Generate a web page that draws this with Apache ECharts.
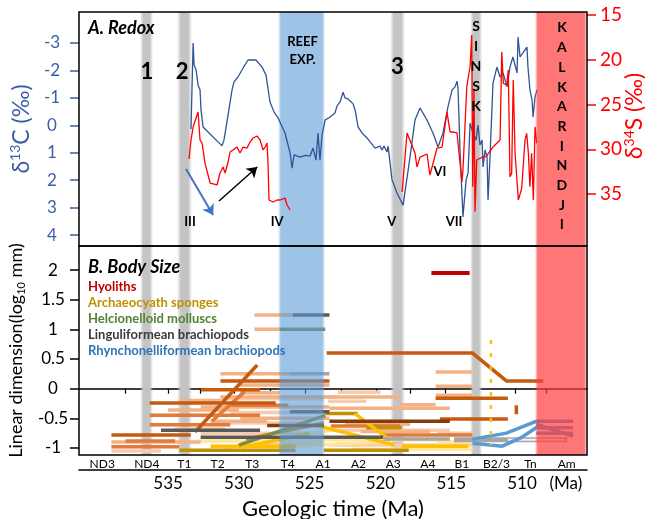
<!DOCTYPE html>
<html><head><meta charset="utf-8">
<script src="https://cdn.jsdelivr.net/npm/echarts@6/dist/echarts.min.js"></script>
<style>html,body{margin:0;padding:0;background:#fff}#c{width:645px;height:519px}</style>
</head><body><div id="c"></div><script>
// ---------- DATA ----------
const stageNames = ['ND3','ND4','T1','T2','T3','T4','A1','A2','A3','A4','B1','B2/3','Tn','Am'];
const stageBounds = [541.3, 538.0, 535.0, 532.7, 530.3, 527.8, 525.3, 522.8, 520.3, 517.9, 515.4, 513.1, 510.5, 508.3, 505.4];
const ageTicks = [535, 530, 525, 520, 515, 510];
const maUnitAt = 506.9;
const d13CTicks = [-3, -2, -1, 0, 1, 2, 3, 4];
const d34STicks = [15, 20, 25, 30, 35];
const sizeTicks = [-1, -0.5, 0, 0.5, 1, 1.5, 2];

// events (Ma)
const grayBands = [[536.98, 536.06], [534.36, 533.31], [519.32, 518.26], [513.67, 512.82]];
const reefBand = [[527.23, 523.91]];
const kalkarindjiBand = [[509.08, 505.41]];

// delta13C curve [Ma, permil]
const carbonCurve = [
 [533.38,0.14],[533.23,-3.0],[533.16,-2.2],[533.02,-2.02],[532.88,-1.47],[532.81,-1.40],[532.74,-1.29],
 [532.67,-0.56],[532.53,0.06],[532.39,0.10],[531.19,0.75],[531.05,0.54],[530.76,-0.38],[530.48,-1.29],
 [530.34,-1.58],[530.06,-1.76],[529.70,-2.09],[529.35,-2.38],[528.79,-2.38],[528.36,-2.12],[528.08,-1.83],
 [527.80,-0.85],[527.51,-0.48],[527.23,-0.27],[526.74,0.28],[526.38,1.01],[526.24,1.56],[526.10,1.08],
 [525.68,1.16],[525.30,1.10],[524.97,1.12],[524.76,0.83],[524.55,1.27],[524.41,0.28],[524.27,1.27],
 [524.12,0.35],[523.91,-0.19],[523.56,-0.30],[523.21,-0.45],[523.07,-0.70],[522.85,-0.85],[522.64,-1.21],
 [522.50,-1.0],[522.29,-0.96],[521.93,-0.78],[521.79,-0.56],[521.58,0.06],[521.30,0.28],[520.95,0.46],
 [520.38,0.83],[520.03,0.76],[519.89,0.90],[519.75,0.76],[519.53,0.97],[519.46,0.76],[519.18,1.99],
 [518.83,2.47],[518.40,2.91],[517.91,1.16],[517.56,-0.19],[517.20,-0.63],[516.71,-0.19],[516.29,0.28],
 [515.93,0.79],[515.58,0.28],[515.23,-0.67],[514.94,-1.29],[514.73,-1.40],[514.59,-1.61],[514.52,-1.36],
 [514.38,0.90],[514.17,3.34],[513.95,1.99],[513.81,1.74],[513.67,-0.08],[513.46,0.28],[513.25,0.54],
 [513.11,-0.01],[512.97,0.72],[512.82,0.54],[512.75,1.52],[512.61,0.9],[512.47,1.16],[512.40,2.72],
 [512.26,1.16],[512.05,-1.54],[511.77,-2.12],[511.55,-1.76],[511.34,-1.91],[511.06,-1.40],[510.85,-2.12],
 [510.64,-2.49],[510.35,-1.91],[510.28,-3.22],[510.14,-2.49],[509.93,-2.64],[509.65,-2.85],[509.58,-2.12],
 [509.44,-1.29],[509.29,-0.92],[509.22,-0.30],[509.08,-1.03],[508.94,-1.29]
];
// delta34S curves [Ma, permil]
const sulfurCurveEarly = [
 [533.52,31.09],[533.38,28.97],[533.23,27.51],[532.88,25.84],[532.74,28.97],[532.60,29.30],[532.39,31.54],
 [532.03,33.77],[531.54,33.99],[531.33,32.65],[531.12,31.98],[530.97,32.65],[530.76,31.42],[530.62,30.31],
 [530.41,30.08],[530.13,29.75],[529.92,30.42],[529.70,29.75],[529.42,29.86],[529.21,29.19],[529.00,28.74],
 [528.71,28.52],[528.50,28.97],[528.29,30.08],[528.15,29.75],[528.01,29.30],[527.94,31.54],[527.87,35.67],
 [527.58,35.89],[527.30,35.67],[527.09,35.67],[526.74,35.45],[526.60,36.23],[526.38,36.79]
];
const sulfurCurveLate = [
 [518.47,34.78],[518.12,28.18],[517.84,29.30],[517.56,30.42],[517.42,31.98],[517.20,30.87],[516.71,30.53],
 [516.50,32.88],[516.00,29.86],[515.65,29.75],[515.30,25.84],[515.08,28.07],[514.87,28.07],[514.59,28.18],
 [514.24,33.66],[514.17,32.32],[513.90,23.01],[513.67,20.78],[513.55,17.23],[513.48,34.18],[513.39,23.38],
 [513.32,36.98],[513.20,31.20],[512.73,30.83],[512.54,30.83],[512.03,29.71],[511.55,28.97],[511.43,19.10],
 [511.32,22.63],[511.08,22.82],[510.97,21.15],[510.85,33.07],[510.73,32.69],[510.62,22.26],[510.49,30.45],
 [510.26,35.67],[510.02,34.36],[509.79,28.97],[509.67,28.22],[509.55,30.45],[509.44,34.18],[509.32,30.45],
 [509.20,35.67],[509.08,27.48],[508.96,29.34]
];
// annotations [text, Ma, delta13C position]
const eventNumbers = [['1',536.5,-1.94],['2',534.0,-1.94],['3',518.8,-2.12]];
const isotopeEvents = [['III',533.45,3.53],['IV',527.3,3.53],['V',519.2,3.53],['VI',515.8,1.70],['VII',514.8,3.53]];
const eventColumns = [['REEF\nEXP.',525.5,-2.71],['S\nI\nN\nS\nK',513.25,-2.16],['K\nA\nL\nK\nA\nR\nI\nN\nD\nJ\nI',507.18,0.04]];
const trendArrowDown = [[533.73,1.59],[531.82,3.27]];
const trendArrowUp = [[531.4,2.76],[528.7,1.52]];

// body size ranges [MaStart, log10 size, MaEnd, log10 size]
const hyolithRanges = [[516.4,1.95,513.7,1.95]];
const hyolithLongRange = [[523.8,0.6],[513.5,0.6],[511.1,0.13],[508.5,0.13]];
const darkOrangeRanges = [
 [531.3,0.13,523.6,0.13],[532.7,-0.02,528.5,-0.02],[536.3,-0.24,527.4,-0.24],[539.0,-0.78,533.4,-0.78],
 [516.1,-0.16,511.0,-0.16],[515.8,-0.51,511.0,-0.51],[533.1,-0.73,528.7,0.40],[510.4,-0.28,510.4,-0.43]
];
const orangeRanges = [
 [536.3,-0.45,528.5,-0.45],[536.3,-0.61,530.6,-0.61],[539.0,-0.98,534.2,-0.98],[520.0,-0.78,513.5,-0.78],
 [531.9,-0.55,529.6,-0.05],[538.0,-0.88,534.5,-0.88],[523.5,-0.63,518.6,-0.63],[530.6,-0.28,526.5,-0.28]
];
const salmonRanges = [
 [528.9,1.24,526.2,1.24],[528.9,1.0,527.1,1.0],[531.3,0.25,526.4,0.25],[529.9,0.06,523.6,0.06],
 [529.9,-0.07,527.1,-0.07],[531.3,-0.14,523.2,-0.14],[523.7,-0.14,518.6,-0.14],[532.7,-0.31,523.6,-0.31],
 [523.6,-0.33,515.1,-0.33],[529.9,-0.5,523.6,-0.5],[539.0,-0.9,532.7,-0.9],[516.1,0.28,513.5,0.28],
 [516.1,0.04,513.5,0.04],[516.1,-0.11,513.5,-0.11],[518.6,-0.27,516.1,-0.27],[535.0,-0.36,530.0,-0.36],
 [532.0,-0.55,528.0,-0.55],[534.2,-0.2,531.3,-0.2],[522.5,-0.6,517.9,-0.6],[521.4,-0.72,516.5,-0.72]
];
const peachRanges = [
 [523.7,-0.21,521.0,-0.21],[523.6,-0.95,513.5,-0.95],[531.3,-0.58,525.0,-0.58],[534.5,-0.68,531.0,-0.68],
 [528.5,-0.92,524.0,-0.92],[539.0,-1.05,535.5,-1.05],[516.0,-0.75,513.5,-0.75],[531.3,-0.17,524.0,-0.17],
 [532.7,-0.75,524.0,-0.75],[530.6,-0.40,524.0,-0.40],[523.6,-0.7,515.1,-0.7],[523.0,-0.06,520.0,-0.06]
];
const brownRanges = [[523.6,-0.55,515.1,-0.55],[528.0,-0.62,524.0,-0.62]];
const archaeocyathRanges = [[529.5,-0.85,524.0,-0.58],[523.9,-0.42,521.6,-0.42],[534.2,-1.04,526.0,-1.04],[524.0,-1.04,518.0,-1.04],[521.0,-0.66,518.5,-0.66]];
const yellowRanges = [[530.0,-1.0,525.0,-0.75],[521.8,-0.42,519.3,-0.87],[524.5,-0.62,519.0,-0.95],[518.5,-0.97,513.8,-0.97],[532.0,-0.97,526.0,-0.97]];
const paleYellowRanges = [[531.0,-1.0,523.5,-0.70],[522.0,-1.02,513.5,-1.02],[527.0,-0.98,520.0,-0.9],[516.0,-0.9,513.5,-0.9],[533.0,-0.88,524.0,-0.88],[526.0,-0.86,516.0,-0.86]];
const helcionelloidRanges = [[530.0,-0.95,523.9,-0.45],[527.1,1.0,523.9,1.0]];
const linguliformRanges = [[535.5,-0.70,528.5,-0.70],[532.7,-0.82,519.8,-0.82],[526.2,1.24,523.6,1.24],[526.4,-0.39,523.6,-0.39]];
const greyRanges = [[526.4,0.25,523.6,0.25],[519.8,-0.85,515.1,-0.85]];
const greyWideRanges = [[514.8,-0.86,506.8,-0.86]];
const whiteRanges = [[511.0,-0.86,507.0,-0.86]];
const rhynchonelliformRanges = [
 [[513.5,-0.85],[511.1,-0.75],[509.0,-0.55],[506.4,-0.55]],
 [[513.5,-0.92],[511.4,-0.97],[510.1,-0.83],[509.0,-0.66],[506.4,-0.66]],
 [[509.0,-0.75],[506.4,-0.75]],
 [[509.0,-0.6],[506.4,-0.8]]
];
const archaeocyathDotted = [[512.2,0.82],[512.2,-0.95]];

// ---------- CHART ----------
const FONT = 'Lato, "Open Sans", sans-serif';
const BLUE = '#3b5ea8';
const RED = '#ff0000';
const chart = echarts.init(document.getElementById('c'), null, {renderer: 'canvas'});
const stageMids = stageNames.map((n, i) => (stageBounds[i] + stageBounds[i + 1]) / 2);

function segs(name, list, color, width, extra) {
  return Object.assign({
    name, type: 'lines', coordinateSystem: 'cartesian2d', xAxisIndex: 1, yAxisIndex: 2,
    polyline: true, silent: true, z: 2,
    data: list.map(s => ({coords: typeof s[0] === 'number' ? [[s[0], s[1]], [s[2], s[3]]] : s})),
    lineStyle: {color, width, opacity: 1, cap: 'butt'}
  }, extra || {});
}
function band(xi, yi, yv, ranges, color, z) {
  return {
    type: 'line', xAxisIndex: xi, yAxisIndex: yi, data: [[540, yv]], showSymbol: false, silent: true,
    lineStyle: {opacity: 0}, z: 1,
    markArea: {silent: true, z, itemStyle: {color}, data: ranges.map(r => [{xAxis: r[0]}, {xAxis: r[1]}])}
  };
}
function grad(c, edge) {
  return new echarts.graphic.LinearGradient(0, 0, 1, 0, [
    {offset: 0, color: c.replace(/[\d.]+\)$/, '0)')}, {offset: edge, color: c},
    {offset: 1 - edge, color: c}, {offset: 1, color: c.replace(/[\d.]+\)$/, '0)')}]);
}
function texts(items, size, lh, extra) {
  return Object.assign({
    type: 'scatter', xAxisIndex: 0, yAxisIndex: 0, symbolSize: 1, silent: true, z: 10,
    itemStyle: {color: 'rgba(0,0,0,0)', opacity: 1},
    data: items.map(d => ({value: [d[1], d[2]], name: d[0]})),
    label: {show: true, position: 'inside', formatter: p => p.name, fontSize: size, lineHeight: lh,
      fontWeight: 'bold', color: '#000', opacity: 1, fontFamily: FONT}
  }, extra || {});
}
const xBase = {type: 'value', min: 505.41, max: 541.29, inverse: true, splitLine: {show: false}};
const legendItems = [
  ['Hyoliths', '#c00000'], ['Archaeocyath sponges', '#bf9000'], ['Helcionelloid molluscs', '#548235'],
  ['Linguliformean brachiopods', '#3a3a3a'], ['Rhynchonelliformean brachiopods', '#2e75b6']
];

const option = {
  animation: false,
  backgroundColor: '#fff',
  textStyle: {fontFamily: FONT},
  title: [
    {text: 'A. Redox', left: 88, top: 19, padding: 0, textStyle: {fontSize: 18, fontWeight: 'bold', fontStyle: 'italic', color: '#000', fontFamily: FONT}},
    {text: 'B. Body Size', left: 88, top: 258, padding: 0, textStyle: {fontSize: 18, fontWeight: 'bold', fontStyle: 'italic', color: '#000', fontFamily: FONT}}
  ].concat(legendItems.map((l, i) => ({text: l[0], left: 88, top: 280 + i * 16, padding: 0,
    textStyle: {fontSize: 13, fontWeight: 'bold', color: l[1], fontFamily: FONT}}))),
  graphic: [{
    type: 'text', x: 635, y: 116, rotation: Math.PI / 2, silent: true, z: 10,
    style: {text: '{a|δ}{s|34}{a|S (‰)}', align: 'center', verticalAlign: 'middle', fill: RED,
      rich: {a: {fontSize: 23, fill: RED, fontFamily: FONT, lineHeight: 26},
             s: {fontSize: 14, fill: RED, fontFamily: FONT, verticalAlign: 'top', lineHeight: 26}}}
  }],
  grid: [
    {left: 79, right: 58, top: 12, height: 234, outerBoundsMode: 'none', containLabel: false, show: true, borderColor: '#000', borderWidth: 1.5, backgroundColor: 'transparent', z: 5},
    {left: 79, right: 58, top: 246, height: 209, outerBoundsMode: 'none', containLabel: false, show: true, borderColor: '#000', borderWidth: 1.5, backgroundColor: 'transparent', z: 5}
  ],
  xAxis: [
    Object.assign({}, xBase, {gridIndex: 0, position: 'top', axisLine: {show: false}, axisTick: {show: false}, axisLabel: {show: false}}),
    Object.assign({}, xBase, {gridIndex: 1, position: 'bottom',
      axisLine: {show: true, lineStyle: {color: '#000', width: 1.5}},
      axisTick: {show: true, customValues: stageBounds.slice(1, -1), length: 5, lineStyle: {color: '#000', width: 1.2}},
      axisLabel: {customValues: stageMids, margin: 3, fontSize: 12, color: '#000', fontFamily: FONT,
        formatter: v => stageNames[stageMids.findIndex(m => Math.abs(m - v) < 1e-6)] || ''}}),
    Object.assign({}, xBase, {gridIndex: 1, position: 'bottom', offset: 15,
      axisLine: {show: true, lineStyle: {color: '#000', width: 1.5}}, axisTick: {show: false},
      axisLabel: {customValues: ageTicks.concat([maUnitAt]), margin: 5, fontSize: 17, color: '#000', fontFamily: FONT,
        formatter: v => (Math.abs(v - maUnitAt) < 1e-6 ? '(Ma)' : String(v))},
      name: 'Geologic time (Ma)', nameLocation: 'middle', nameGap: 28,
      nameTextStyle: {fontSize: 22, color: '#000', fontFamily: FONT}})
  ],
  yAxis: [
    {gridIndex: 0, type: 'value', position: 'left', inverse: true, min: -4.13, max: 4.4, splitLine: {show: false},
      axisLine: {show: false},
      axisTick: {show: true, customValues: d13CTicks, length: 9, lineStyle: {color: BLUE, width: 1.5}},
      axisLabel: {customValues: d13CTicks, color: BLUE, fontSize: 17, align: 'center', margin: 27, fontFamily: FONT},
      name: '{a|δ}{s|13}{a|C (‰)}', nameLocation: 'middle', nameRotate: 90, nameGap: 38,
      nameTextStyle: {color: BLUE, fontFamily: FONT, rich: {a: {fontSize: 23, color: BLUE, fontFamily: FONT, lineHeight: 26},
        s: {fontSize: 14, color: BLUE, fontFamily: FONT, verticalAlign: 'top', lineHeight: 26}}}},
    {gridIndex: 0, type: 'value', position: 'right', inverse: true, min: 14.66, max: 40.81, splitLine: {show: false},
      axisLine: {show: false},
      axisTick: {show: true, customValues: d34STicks, length: 9, lineStyle: {color: RED, width: 1.5}},
      axisLabel: {customValues: d34STicks, color: RED, fontSize: 19, margin: 13, fontFamily: FONT}},
    {gridIndex: 1, type: 'value', position: 'left', min: -1.118, max: 2.405, splitLine: {show: false},
      axisLine: {show: false},
      axisTick: {show: true, customValues: sizeTicks, length: 9, lineStyle: {color: '#000', width: 1.5}},
      axisLabel: {customValues: sizeTicks, color: '#000', fontSize: 17, align: 'center', margin: 26, fontFamily: FONT},
      name: '{a|Linear dimension(log}{b|10}{a| mm)}', nameLocation: 'middle', nameRotate: 90, nameGap: 48,
      nameTextStyle: {color: '#000', fontFamily: FONT, rich: {a: {fontSize: 18, color: '#000', fontFamily: FONT, lineHeight: 22},
        b: {fontSize: 11, color: '#000', fontFamily: FONT, verticalAlign: 'bottom', lineHeight: 22}}}}
  ],
  series: [
    band(0, 0, 0, grayBands, grad('rgba(196,196,196,1)', 0.25), 1),
    band(0, 0, 0, reefBand, grad('rgba(157,195,230,1)', 0.06), 1),
    band(0, 0, 0, kalkarindjiBand, grad('rgba(255,60,60,0.7)', 0.05), 4),
    band(1, 2, 0, grayBands, grad('rgba(196,196,196,1)', 0.25), 1),
    band(1, 2, 0, reefBand, grad('rgba(91,155,213,0.6)', 0.06), 4),
    band(1, 2, 0, kalkarindjiBand, grad('rgba(255,60,60,0.7)', 0.05), 4),
    {name: 'd13C', type: 'line', xAxisIndex: 0, yAxisIndex: 0, data: carbonCurve, showSymbol: false, z: 2,
      lineStyle: {color: '#2f5597', width: 1.3}},
    {name: 'd34S-1', type: 'line', xAxisIndex: 0, yAxisIndex: 1, data: sulfurCurveEarly, showSymbol: false, z: 2,
      lineStyle: {color: RED, width: 1.3}},
    {name: 'd34S-2', type: 'line', xAxisIndex: 0, yAxisIndex: 1, data: sulfurCurveLate, showSymbol: false, z: 2,
      lineStyle: {color: RED, width: 1.3}},
    {type: 'lines', coordinateSystem: 'cartesian2d', xAxisIndex: 0, yAxisIndex: 0, polyline: false, silent: true, z: 6,
      symbol: ['none', 'arrow'], symbolSize: 10,
      data: [{coords: trendArrowDown, lineStyle: {color: '#4472c4', width: 2, opacity: 1}},
             {coords: trendArrowUp, lineStyle: {color: '#000', width: 1.5, opacity: 1}}],
      lineStyle: {opacity: 1}},
    texts(eventNumbers, 22, 24),
    texts(isotopeEvents, 13, 15),
    texts(eventColumns.slice(0, 1), 13, 18),
    texts(eventColumns.slice(1, 2), 14, 20),
    texts(eventColumns.slice(2), 14, 19.7),
    segs('peach', peachRanges, '#f8cbad', 3.5),
    segs('paleYellow', paleYellowRanges, '#ffe699', 3.5),
    segs('salmon', salmonRanges, '#f4b183', 3.5),
    segs('orange', orangeRanges, '#e07b39', 3.5),
    segs('archaeocyath', archaeocyathRanges, '#bf9000', 3.5),
    segs('yellow', yellowRanges, '#ffc000', 3.5),
    segs('helcionelloid', helcionelloidRanges, '#7f8a4a', 3.5),
    segs('darkOrange', darkOrangeRanges, '#c55a11', 3.5),
    segs('hyolithLong', [hyolithLongRange], '#c55a11', 3.5),
    segs('brown', brownRanges, '#843c0c', 3.5),
    segs('linguliform', linguliformRanges, '#595959', 3.5),
    segs('grey', greyRanges, '#a6a6a6', 3.5),
    segs('greyWide', greyWideRanges, '#a6a6a6', 5),
    segs('white', whiteRanges, '#f2f2f2', 2),
    segs('rhynchonelliform', rhynchonelliformRanges, '#5b9bd5', 3.5),
    segs('hyolith', hyolithRanges, '#c00000', 4),
    segs('archaeoDots', [archaeocyathDotted], '#ffc000', 2.5, {lineStyle: {color: '#ffc000', width: 2.5, opacity: 1, type: [4, 9]}})
  ]
};
chart.setOption(option);
</script></body></html>
